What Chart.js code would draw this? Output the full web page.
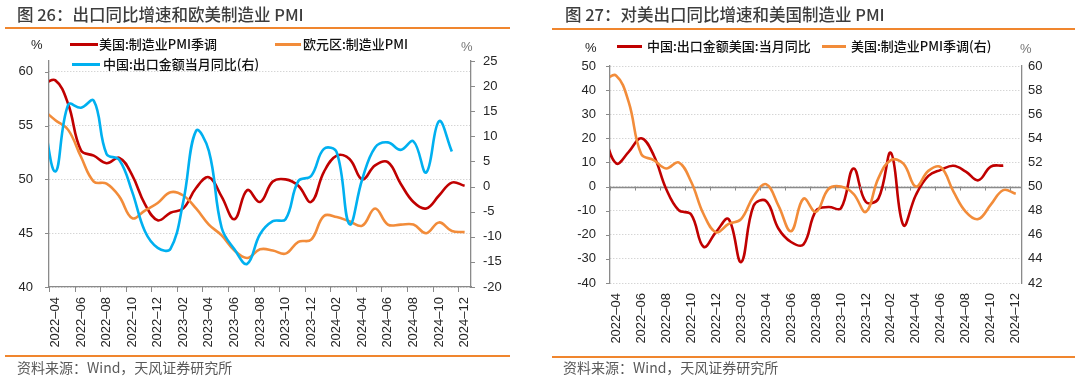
<!DOCTYPE html>
<html>
<head>
<meta charset="utf-8">
<script src="https://cdn.jsdelivr.net/npm/chart.js@4.4.1/dist/chart.umd.min.js"></script>
<style>
  html, body { margin: 0; padding: 0; background: #fff; }
  body { width: 1080px; height: 381px; position: relative; overflow: hidden; font-family: "Noto Sans CJK SC", "Liberation Sans", sans-serif; }
  .panel { position: absolute; top: 0; width: 540px; height: 381px; }
  .panel canvas { position: absolute; left: 0; top: 0; }
  .title { position: absolute; top: 2px; font-size: 16.5px; line-height: 24px; color: #3d3d3d; white-space: nowrap; font-weight: 500; }
  .rule { position: absolute; height: 1.5px; background: #F0862E; }
  .src { position: absolute; top: 357px; font-size: 14px; line-height: 20px; color: #595959; white-space: nowrap; }
  .leg { position: absolute; font-size: 13px; line-height: 16px; color: #111; white-space: nowrap; font-weight: 500; }
  .sw { position: absolute; height: 2.5px; }
  .unit { position: absolute; font-family: "Liberation Sans", sans-serif; font-size: 13px; line-height: 16px; }
</style>
</head>
<body>
<div class="panel" style="left:0">
  <canvas id="c1" width="540" height="381"></canvas>
  <div class="title" style="left:17px">图 26：出口同比增速和欧美制造业 PMI</div>
  <div class="rule" style="left:5px;top:27px;width:505px"></div>
  <div class="unit" style="left:31px;top:37px;color:#222">%</div>
  <div class="unit" style="left:461px;top:39px;color:#777">%</div>
  <div class="sw" style="left:70px;top:43px;width:28px;background:#C00000"></div>
  <div class="leg" style="left:99px;top:36px">美国:制造业PMI季调</div>
  <div class="sw" style="left:275px;top:43px;width:26px;background:#F28C3A"></div>
  <div class="leg" style="left:303px;top:36px">欧元区:制造业PMI</div>
  <div class="sw" style="left:72px;top:63px;width:28px;background:#00B0F0"></div>
  <div class="leg" style="left:103px;top:56px">中国:出口金额当月同比(右)</div>
  <div class="rule" style="left:5px;top:355px;width:505px"></div>
  <div class="src" style="left:17px">资料来源：Wind，天风证券研究所</div>
</div>
<div class="panel" style="left:540px">
  <canvas id="c2" width="540" height="381"></canvas>
  <div class="title" style="left:25px">图 27：对美出口同比增速和美国制造业 PMI</div>
  <div class="rule" style="left:12px;top:28px;width:523px"></div>
  <div class="unit" style="left:45px;top:40px;color:#222">%</div>
  <div class="unit" style="left:480px;top:41px;color:#777">%</div>
  <div class="sw" style="left:77px;top:45px;width:25px;background:#C00000"></div>
  <div class="leg" style="left:107px;top:38px">中国:出口金额美国:当月同比</div>
  <div class="sw" style="left:282px;top:45px;width:24px;background:#F28C3A"></div>
  <div class="leg" style="left:311px;top:38px">美国:制造业PMI季调(右)</div>
  <div class="rule" style="left:12px;top:356px;width:523px"></div>
  <div class="src" style="left:23px">资料来源：Wind，天风证券研究所</div>
</div>
<script>
// ---------------- data ----------------
const months = ['2022-03','2022-04','2022-05','2022-06','2022-07','2022-08','2022-09','2022-10','2022-11','2022-12',
  '2023-01','2023-02','2023-03','2023-04','2023-05','2023-06','2023-07','2023-08','2023-09','2023-10','2023-11','2023-12',
  '2024-01','2024-02','2024-03','2024-04','2024-05','2024-06','2024-07','2024-08','2024-09','2024-10','2024-11','2024-12'];
const tickLabels = ['2022–04','2022–06','2022–08','2022–10','2022–12','2023–02','2023–04','2023–06','2023–08',
  '2023–10','2023–12','2024–02','2024–04','2024–06','2024–08','2024–10','2024–12'];
const leftTicks1 = [40, 45, 50, 55, 60];
// US manufacturing PMI (SA) — used in both charts
const usMfgPMI = [58.8, 59.2, 57.0, 52.7, 52.2, 51.5, 52.0, 50.4, 47.7, 46.2,
  46.9, 47.3, 49.2, 50.2, 48.4, 46.3, 49.0, 47.9, 49.8, 50.0, 49.4, 47.9,
  50.7, 52.2, 51.9, 50.0, 51.3, 51.6, 49.6, 47.9, 47.3, 48.5, 49.7, 49.4];
// Euro area manufacturing PMI
const euroMfgPMI = [56.5, 55.5, 54.6, 52.1, 49.8, 49.6, 48.4, 46.4, 47.1, 47.8,
  48.8, 48.5, 47.3, 45.8, 44.8, 43.4, 42.7, 43.5, 43.4, 43.1, 44.2, 44.4,
  46.6, 46.5, 46.1, 45.7, 47.3, 45.8, 45.8, 45.8, 45.0, 46.0, 45.2, 45.1];
// China exports, monthly YoY % (right axis), to 2024-11
const chinaExportYoY = [14.7, 3.0, 16.3, 15.7, 17.1, 6.5, 5.3, -1.0, -8.9, -12.2,
  -12.4, -3.0, 11.1, 7.1, -8.2, -12.5, -15.4, -9.5, -6.9, -6.5, 1.1, 2.1,
  7.5, 6.8, -7.5, 1.5, 7.8, 8.8, 7.3, 9.0, 2.8, 13.0, 7.0];
// China exports to US, monthly YoY %, to 2024-11
const chinaExportToUSYoY = [22.0, 9.6, 14.4, 20.0, 13.0, -1.0, -9.8, -11.6, -25.0, -18.8,
  -13.5, -31.3, -8.0, -6.0, -17.5, -23.0, -24.0, -10.0, -8.5, -9.0, 7.5, -6.4,
  -5.0, 14.0, -16.0, -3.5, 4.4, 6.9, 8.6, 6.2, 2.6, 8.3, 8.7];

// ---------------- helpers ----------------
// month k of `months` sits in the middle of band [k-1, k]
const toPoints = arr => arr.map((v, k) => ({ x: k - 0.5, y: v })).filter(p => p.y != null);
const tickValues = tickLabels.map((_, j) => 2 * j + 0.5);
const NBANDS = months.length - 1;

const AXIS = '#8a8a8a';
const GRID = '#c4c4c4';
const TICKFONT = { family: 'Liberation Sans', size: 13 };
const TICKCOLOR = '#262626';

const marksPlugin = {
  id: 'marks',
  beforeDatasetsDraw(chart, args, opts) {
    if (opts.zeroLine) {
      const y = chart.scales[opts.zeroLine.scale];
      const py = Math.round(y.getPixelForValue(0)) + 0.5;
      const ctx = chart.ctx, a = chart.chartArea;
      ctx.save();
      ctx.strokeStyle = AXIS; ctx.lineWidth = 1.3;
      ctx.beginPath(); ctx.moveTo(a.left, py); ctx.lineTo(a.right, py); ctx.stroke();
      ctx.restore();
    }
  },
  afterDraw(chart, args, opts) {
    const ctx = chart.ctx;
    ctx.save();
    ctx.strokeStyle = AXIS; ctx.lineWidth = 1;
    ctx.beginPath();
    (opts.items || []).forEach(m => {
      const s = chart.scales[m.scale];
      if (s.isHorizontal()) {
        let y0 = s.top;
        if (m.refScale) y0 = chart.scales[m.refScale].getPixelForValue(0);
        s.ticks.forEach(t => {
          const px = Math.round(s.getPixelForValue(t.value - 0.5)) + 0.5;
          ctx.moveTo(px, y0); ctx.lineTo(px, y0 + m.len);
        });
      } else {
        s.ticks.forEach(t => {
          const py = Math.round(s.getPixelForValue(t.value)) + 0.5;
          if (m.side === 'left') { ctx.moveTo(s.right, py); ctx.lineTo(s.right - m.len, py); }
          else { ctx.moveTo(s.left, py); ctx.lineTo(s.left + m.len, py); }
        });
      }
    });
    ctx.stroke();
    ctx.restore();
  }
};

function lineDs(label, arr, color, axis) {
  return {
    label, data: toPoints(arr), yAxisID: axis,
    borderColor: color, backgroundColor: color, borderWidth: 2.6,
    pointRadius: 0, tension: 0.4, fill: false
  };
}

function xAxis(pad) {
  return {
    type: 'linear', min: 0, max: NBANDS,
    afterBuildTicks: s => { s.ticks = tickValues.map(v => ({ value: v })); },
    afterFit: s => { s.height = pad.h; },
    grid: { display: false, drawTicks: false },
    border: { display: pad.border, color: AXIS, width: 1.3 },
    ticks: {
      autoSkip: false, maxRotation: 90, minRotation: 90, padding: pad.p,
      font: TICKFONT, color: TICKCOLOR,
      callback: v => tickLabels[Math.round((v - 0.5) / 2)]
    }
  };
}

// ---------------- chart 1 ----------------
new Chart(document.getElementById('c1'), {
  type: 'line',
  data: {
    datasets: [
      lineDs('中国:出口金额当月同比(右)', chinaExportYoY, '#00B0F0', 'y1'),
      lineDs('欧元区:制造业PMI', euroMfgPMI, '#F28C3A', 'y'),
      lineDs('美国:制造业PMI季调', usMfgPMI, '#C00000', 'y')
    ]
  },
  plugins: [marksPlugin],
  options: {
    responsive: false, animation: false, devicePixelRatio: 1,
    layout: { padding: { top: 61, left: 0, right: 0, bottom: 0 } },
    plugins: {
      legend: { display: false }, tooltip: { enabled: false },
      marks: { items: [
        { scale: 'x', len: 5 },
        { scale: 'y', side: 'left', len: 4 },
        { scale: 'y1', side: 'right', len: 4 }
      ] }
    },
    scales: {
      x: xAxis({ h: 94, p: 10, border: true }),
      y: {
        position: 'left', min: 40, max: 61,
        ticks: { autoSkip: false, padding: 16, font: TICKFONT, color: TICKCOLOR },
        afterBuildTicks: s => { s.ticks = leftTicks1.map(v => ({ value: v })); },
        afterFit: s => { s.width = 49; },
        grid: { color: GRID, lineWidth: 1, drawTicks: false },
        border: { color: AXIS, width: 1.3, dash: [1, 2] }
      },
      y1: {
        position: 'right', min: -20, max: 25,
        ticks: { stepSize: 5, padding: 12, font: TICKFONT, color: TICKCOLOR },
        afterFit: s => { s.width = 69; },
        grid: { drawOnChartArea: false, drawTicks: false },
        border: { color: AXIS, width: 1.3 }
      }
    }
  }
});

// ---------------- chart 2 ----------------
new Chart(document.getElementById('c2'), {
  type: 'line',
  data: {
    datasets: [
      lineDs('美国:制造业PMI季调(右)', usMfgPMI, '#F28C3A', 'y1'),
      lineDs('中国:出口金额美国:当月同比', chinaExportToUSYoY, '#C00000', 'y')
    ]
  },
  plugins: [marksPlugin],
  options: {
    responsive: false, animation: false, devicePixelRatio: 1,
    layout: { padding: { top: 66, left: 0, right: 0, bottom: 0 } },
    plugins: {
      legend: { display: false }, tooltip: { enabled: false },
      marks: {
        zeroLine: { scale: 'y' },
        items: [
          { scale: 'x', len: 4, refScale: 'y' },
          { scale: 'y', side: 'left', len: 4 }
        ]
      }
    },
    scales: {
      x: xAxis({ h: 98, p: 10, border: false }),
      y: {
        position: 'left', min: -40, max: 50,
        ticks: { stepSize: 10, padding: 14, font: TICKFONT, color: TICKCOLOR },
        afterFit: s => { s.width = 70; },
        grid: { color: GRID, lineWidth: 1, drawTicks: false },
        border: { color: AXIS, width: 1.3, dash: [1, 2] }
      },
      y1: {
        position: 'right', min: 42, max: 60,
        ticks: { stepSize: 2, padding: 6, font: TICKFONT, color: TICKCOLOR },
        afterFit: s => { s.width = 58; },
        grid: { drawOnChartArea: false, drawTicks: false },
        border: { color: AXIS, width: 1.3 }
      }
    }
  }
});
</script>
</body>
</html>
